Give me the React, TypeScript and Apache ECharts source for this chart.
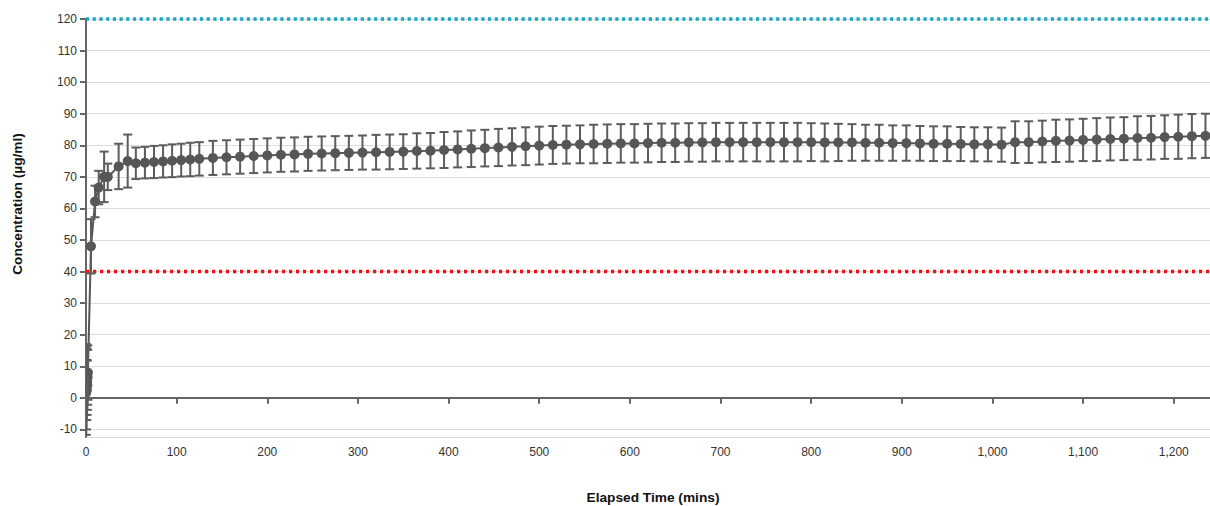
import React, { useEffect, useRef } from "react";
import * as echarts from "echarts";

// ---- data ----
const earlyTimes = [0, 0.3, 0.6, 0.9, 1.2, 1.5, 1.8, 2.1];
const earlyMeans = [1.5, 2.0, 3.5, 2.5, 5.0, 4.0, 6.5, 8.0];
const earlyErrs = [14.8, 13.7, 13.5, 9.5, 10.4, 7.8, 8.7, 8.6];

const riseTimes = [5.5, 10, 14, 20, 24, 36, 46];
const riseMeans = [48.0, 62.2, 66.6, 70.0, 70.0, 73.3, 75.0];
const riseErrs = [8.6, 5.0, 5.3, 8.0, 4.2, 7.2, 8.4];

const tenMinTimes = [55, 65, 75, 85, 95, 105, 115, 125];
const tenMinMeans = [74.3, 74.5, 74.7, 74.9, 75.1, 75.3, 75.5, 75.7];
const tenMinErrs = [5.0, 5.0, 5.1, 5.1, 5.2, 5.2, 5.3, 5.3];

const quarterTimes = [
  140, 155, 170, 185, 200, 215, 230, 245, 260, 275, 290, 305, 320, 335, 350, 365, 380, 395, 410, 425,
  440, 455, 470, 485, 500, 515, 530, 545, 560, 575, 590, 605, 620, 635, 650, 665, 680, 695, 710, 725,
  740, 755, 770, 785, 800, 815, 830, 845, 860, 875, 890, 905, 920, 935, 950, 965, 980, 995, 1010, 1025,
  1040, 1055, 1070, 1085, 1100, 1115, 1130, 1145, 1160, 1175, 1190, 1205, 1220, 1235,
];
const quarterMeans = [
  76.0, 76.2, 76.4, 76.6, 76.8, 77.0, 77.1, 77.3, 77.4, 77.5, 77.6, 77.7, 77.8, 77.9, 78.0, 78.2, 78.3, 78.5, 78.7, 78.9,
  79.1, 79.3, 79.5, 79.7, 79.9, 80.1, 80.2, 80.3, 80.4, 80.5, 80.6, 80.6, 80.7, 80.8, 80.8, 80.9, 80.9, 81.0, 81.0, 81.0,
  81.0, 81.0, 81.0, 81.0, 81.0, 80.9, 80.9, 80.9, 80.8, 80.8, 80.7, 80.7, 80.6, 80.5, 80.5, 80.4, 80.3, 80.3, 80.2, 81.0,
  81.0, 81.2, 81.4, 81.5, 81.7, 81.8, 82.0, 82.1, 82.3, 82.4, 82.6, 82.7, 82.9, 83.0,
];
const quarterErrs = [
  5.4, 5.4, 5.4, 5.4, 5.4, 5.4, 5.4, 5.4, 5.4, 5.4, 5.4, 5.4, 5.5, 5.5, 5.5, 5.6, 5.6, 5.7, 5.7, 5.8,
  5.8, 5.9, 5.9, 6.0, 6.0, 6.0, 6.0, 6.0, 6.1, 6.1, 6.1, 6.1, 6.1, 6.1, 6.1, 6.1, 6.1, 6.1, 6.1, 6.1,
  6.1, 6.1, 6.1, 6.1, 6.0, 6.0, 5.9, 5.8, 5.7, 5.7, 5.6, 5.6, 5.5, 5.5, 5.5, 5.4, 5.4, 5.4, 5.4, 6.6,
  6.6, 6.6, 6.7, 6.7, 6.7, 6.8, 6.8, 6.8, 6.9, 6.9, 6.9, 7.0, 7.0, 7.0,
];

const lowerLimit = 40;
const upperLimit = 120;
const xMax = 1240;
const yMin = -12.4;
const yMax = 120;

const yTitle = "Concentration (µg/ml)";
const xTitle = "Elapsed Time (mins)";

const FONT = "'Liberation Sans', Arial, Helvetica, sans-serif";
const DARK = "#575555";

export default function App() {
  const ref = useRef<HTMLDivElement>(null);

  useEffect(() => {
    if (!ref.current) return;
    const chart = echarts.init(ref.current, undefined, { renderer: "svg" });

    const times = [...earlyTimes, ...riseTimes, ...tenMinTimes, ...quarterTimes];
    const means = [...earlyMeans, ...riseMeans, ...tenMinMeans, ...quarterMeans];
    const errs = [...earlyErrs, ...riseErrs, ...tenMinErrs, ...quarterErrs];
    const linePts = times.map((t, i) => [t, means[i]]);
    const errPts = times.map((t, i) => [t, means[i], errs[i]]);

    chart.setOption({
      animation: false,
      grid: { left: 86, right: 0, top: 19, bottom: 69, containLabel: false },
      xAxis: {
        type: "value",
        min: 0,
        max: xMax,
        interval: 100,
        axisLine: { show: true, lineStyle: { color: "#666", width: 2 } },
        axisTick: { show: true, length: 6, lineStyle: { color: "#666", width: 2 } },
        axisLabel: {
          color: "#333",
          fontSize: 12,
          fontFamily: FONT,
          margin: 9,
          showMaxLabel: false,
          formatter: (v: number) => v.toLocaleString("en-US"),
        },
        splitLine: { show: false },
      },
      yAxis: {
        type: "value",
        min: yMin,
        max: yMax,
        splitNumber: 13,
        axisLine: { show: true, lineStyle: { color: "#666", width: 2 } },
        axisTick: { show: true, length: 6, lineStyle: { color: "#666", width: 2 } },
        axisLabel: {
          color: "#333",
          fontSize: 12,
          fontFamily: FONT,
          margin: 9,
          showMinLabel: false,
        },
        splitLine: { show: true, lineStyle: { color: "#dcdcdc", width: 1 } },
      },
      graphic: [
        {
          type: "text",
          x: 17,
          y: 204,
          rotation: Math.PI / 2,
          style: {
            text: yTitle,
            align: "center",
            verticalAlign: "middle",
            font: `bold 13.7px ${FONT}`,
            fill: "#111",
          },
        },
        {
          type: "text",
          x: 653,
          y: 497,
          style: {
            text: xTitle,
            align: "center",
            verticalAlign: "middle",
            font: `bold 13.7px ${FONT}`,
            fill: "#111",
          },
        },
      ],
      series: [
        {
          type: "line",
          data: [[0, upperLimit], [xMax, upperLimit]],
          symbol: "none",
          clip: false,
          silent: true,
          lineStyle: { color: "#1aa6c4", width: 3.5, type: [3.2, 3.5] },
          z: 3,
        },
        {
          type: "line",
          data: [[0, lowerLimit], [xMax, lowerLimit]],
          symbol: "none",
          clip: false,
          silent: true,
          lineStyle: { color: "#ee1111", width: 3.5, type: [3.2, 3.8] },
          z: 3,
        },
        {
          type: "line",
          data: linePts,
          showSymbol: false,
          symbol: "none",
          clip: true,
          lineStyle: { color: DARK, width: 2 },
          z: 4,
        },
        {
          type: "custom",
          data: errPts,
          clip: true,
          z: 5,
          renderItem: (params: any, api: any) => {
            const x = api.value(0);
            const y = api.value(1);
            const e = api.value(2);
            const top = api.coord([x, y + e]);
            const bot = api.coord([x, y - e]);
            const c = api.coord([x, y]);
            const hw = 4.5;
            const st = { stroke: "#5e5b5b", lineWidth: 2, fill: "none" };
            return {
              type: "group",
              children: [
                { type: "line", shape: { x1: top[0], y1: top[1], x2: bot[0], y2: bot[1] }, style: st },
                { type: "line", shape: { x1: top[0] - hw, y1: top[1], x2: top[0] + hw, y2: top[1] }, style: st },
                { type: "line", shape: { x1: bot[0] - hw, y1: bot[1], x2: bot[0] + hw, y2: bot[1] }, style: st },
                { type: "circle", shape: { cx: c[0], cy: c[1], r: 5 }, style: { fill: DARK } },
              ],
            };
          },
        },
      ],
    });

    return () => chart.dispose();
  }, []);

  return (
    <div
      ref={ref}
      style={{ position: "fixed", left: 0, top: 0, width: 1210, height: 506, background: "#fff" }}
    />
  );
}
